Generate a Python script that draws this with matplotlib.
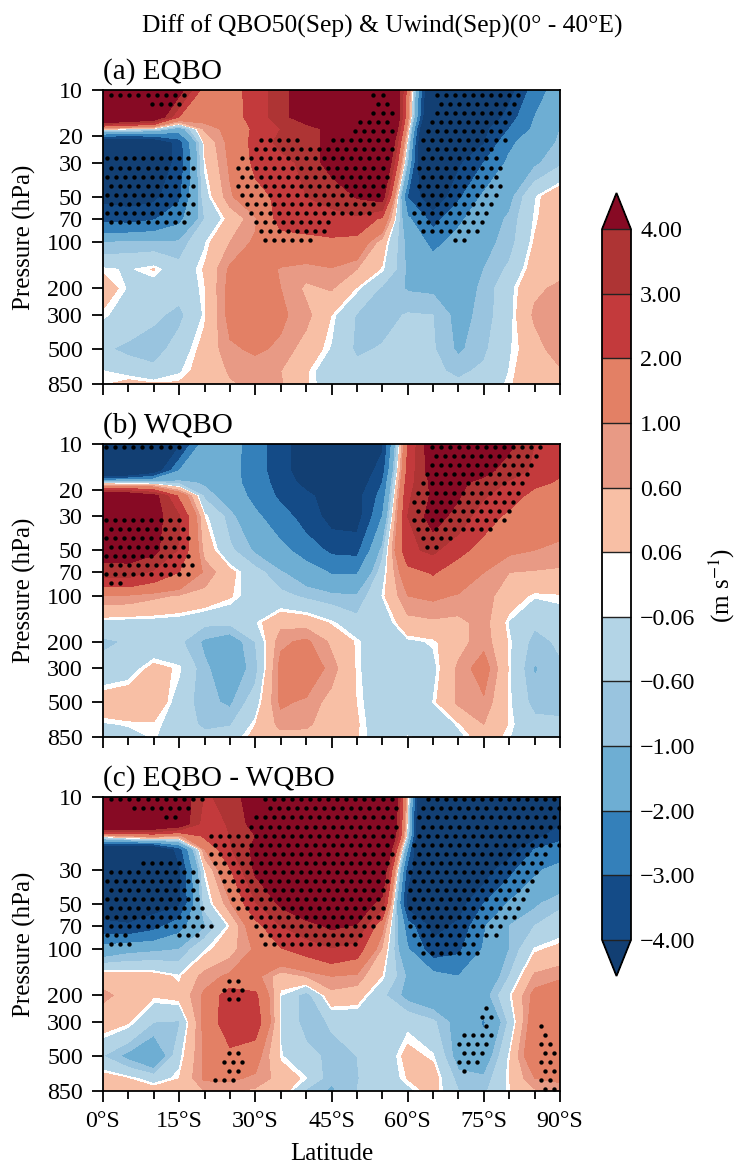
import numpy as np
import matplotlib
matplotlib.use("Agg")
import matplotlib.pyplot as plt
from matplotlib.cm import ScalarMappable
from matplotlib.colors import BoundaryNorm, ListedColormap
from matplotlib.ticker import NullLocator

plt.rcParams["font.family"] = ["Liberation Serif", "DejaVu Serif"]
plt.rcParams["mathtext.fontset"] = "stix"

lats = np.arange(0, 95, 5)
plevs = [10, 15, 18, 22, 30, 50, 70, 100, 150, 200, 300, 500, 700, 850]

# -----------------------------
# zonal wind differences, one row per pressure level
# -----------------------------
eqbo = [
    [5, 5, 5, 4.5, 1.5, 1.5, 2.5, 3.5, 5, 6, 6, 9.8, 1.5, -6.8, -6, -6, -4.5, -2.5, -1.5],
    [7, 6.5, 5.5, 2, 1.3, 1.4, 2.5, 3.5, 5, 5.5, 5.5, 10, 1.2, -7.5, -6, -5.5, -3.5, -2, -1.2],
    [.3, -.05, -.3, -1.5, .7, 1.2, 2.2, 3, 3.3, 4.5, 5, 9.25, .5, -9.3, -4.5, -4.3, -3, -1.8, -1],
    [-6, -6, -5.5, -3.5, .15, 1.2, 2.3, 3.3, 3.5, 4.4, 5, 7.9, -.2, -9.7, -4.5, -4.1, -2.2, -1.5, -.9],
    [-4.5, -4.8, -4.8, -3.7, 0, 1.1, 2.2, 2.6, 3.3, 4.5, 5, 6.6, -1, -9, -4.2, -3, -1.8, -1.1, -.7],
    [-4.3, -4.5, -4.3, -3.2, -.3, .9, 1.7, 2.2, 3, 3.1, 4.1, 4.6, -3.07, -5.1, -3.2, -1.8, -1.2, -.1, .5],
    [-3.3, -3.4, -3.1, -2.3, -.6, .2, .9, 2.4, 2.6, 2.9, 2.8, 1.8, -1.8, -3.4, -2.2, -1.4, -.9, -.02, .5],
    [-1, -.9, -.9, -.9, -.1, .6, 1.1, 1.5, 1.6, 1.7, 1.6, .3, -1.2, -2.3, -1.6, -1.2, -.8, .1, .45],
    [0, -.1, .08, -.4, .1, 1.1, 1.3, .95, .8, .95, .6, 0, -1.1, -1.4, -1.3, -1, -.5, .3, .45],
    [.3, -.1, -.3, -.4, .03, 1.2, 1.3, 1, .5, .65, .02, -.7, -1.05, -1.1, -1.3, -.9, -.2, .5, .7],
    [-.02, -.2, -.5, -.75, 0, 1.2, 1.3, 1.1, .75, .05, -.65, -.8, -.55, -.6, -1.2, -.85, -.2, .7, .85],
    [-.5, -.75, -.9, -.3, .2, .9, 1.1, .9, .35, -.1, -.7, -.55, -.45, -.55, -1.1, -.7, -.1, .3, 1],
    [-.05, -.2, -.4, -.1, .25, .65, .7, .6, .1, -.35, -.4, -.3, -.25, -.5, -.7, -.5, -.05, .4, .5],
    [.02, .2, .1, .1, .3, .55, .7, .65, .1, -.3, -.3, -.3, -.2, -.15, -.5, -.4, .02, .3, .4],
]
wqbo = [
    [-5, -5, -5, -4.2, -1.5, -1.5, -2.6, -3.5, -4.8, -5.5, -5.5, -4.2, 2, 5, 5, 5, 4.3, 3, 2.5],
    [-7, -6.5, -5, -2, -1.6, -1.6, -2.6, -3.5, -4.8, -5.2, -5, -3.5, 2.3, 4.7, 4.6, 4.5, 3.3, 2.9, 2.1],
    [-.4, -.5, -.5, -.8, -1.1, -1.5, -2.6, -3.3, -4.4, -5, -4.8, -3, 2.55, 4.3, 4.3, 3.5, 2.9, 2.2, 1.9],
    [5.5, 5.5, 4.5, 1.8, -.7, -1.4, -2.3, -3.2, -3.7, -4.6, -4.4, -2.6, 2.8, 4.2, 4.1, 3.1, 2.4, 1.7, 1.5],
    [4.6, 4.8, 4.5, 3.1, .05, -.8, -1.8, -2.6, -3.4, -4.4, -4.5, -2, 3, 4.5, 3.6, 2.4, 1.8, 1.4, 1.2],
    [4.5, 4.6, 4.3, 2.9, .4, -.5, -1.1, -1.7, -2.5, -3.2, -3.3, -.8, 2.8, 3.2, 2.3, 1.6, 1.1, 1, .9],
    [3.5, 3.5, 2.8, 2, .9, .2, -.4, -.95, -1.4, -2.1, -2.1, -.3, 1.6, 2.1, 1.4, 1, .6, .55, .5],
    [.9, .9, .7, .55, .4, .1, -.3, -.45, -.7, -.85, -.95, -.05, 1, 1.1, .95, .8, .3, -.03, .02],
    [-.2, -.25, -.25, -.3, -.5, -.5, -.1, .45, .4, 0, -.4, -.4, .4, .5, .45, .8, -.1, -.5, -.3],
    [-.7, -.55, -.45, -.5, -1.1, -1.4, -.6, .9, 1.1, .5, 0, -.4, -.15, -.02, .4, .85, 0, -.8, -.5],
    [-.4, -.3, .2, 0, -.9, -1.4, -.8, 1.2, 1.5, .8, 0, -.4, -.45, -.2, .7, 1.3, 0, -1.05, -.7],
    [.35, .5, .45, -.3, -.85, -1.1, -.3, 1.1, .9, .4, .05, -.4, -.45, -.05, .7, .9, 0, -.8, -.85],
    [-.1, -.03, 0, -.2, -.75, -.65, .05, .75, .7, .3, .1, -.35, -.45, -.5, 0, .6, .02, -.4, -.45],
    [-.3, -.2, -.03, -.3, -.4, -.3, .2, .4, .4, .3, .08, -.3, -.02, -.3, -.2, .3, -.05, -.3, -.3],
]
diff = [
    [5, 5, 5, 5, 2.9, 3.2, 5, 6, 6, 6, 6, 9.7, .2, -12, -5.5, -5.5, -5.5, -5.5, -4.5],
    [7, 6.5, 6, 5, 2.5, 3.1, 4.5, 6, 6, 6, 6, 9.4, -.2, -12, -6, -6, -6, -5.5, -4.2],
    [.3, 1, 1.2, .8, 2.2, 3, 4, 5.5, 6, 6, 6, 9, -.5, -12, -5.5, -5, -4.8, -4.5, -3.2],
    [-6, -6, -6, -3.5, 1, 2.9, 4.3, 5.5, 6, 6, 6, 7.5, -2.1, -10, -5, -5, -4.6, -3, -2.7],
    [-4.6, -5, -5, -4.2, 0, 1.9, 4.2, 5.5, 6, 6, 6, 5.45, -3.6, -6, -5, -4.6, -3.3, -2.2, -1.6],
    [-4.5, -4.7, -4.5, -4.2, -.4, .9, 2.9, 4.2, 5, 5.5, 5, 3.5, -4.5, -5, -4.5, -3, -1.9, -1.1, -.7],
    [-3.8, -3.9, -3.4, -2.4, -1.1, .05, 1.6, 3, 3.6, 4.2, 3.9, 1.2, -2.5, -4.4, -3.8, -2.1, -1, -.6, -.3],
    [-1.5, -1.2, -1.1, -1, -.1, .4, 1.1, 1.9, 2.4, 2.9, 2.5, .5, -1.9, -3.6, -3.2, -1.9, -1, -.02, .2],
    [.4, .3, .25, -.02, .8, 1.1, 1.2, .3, .6, 1, .85, .03, -1.1, -1.6, -2, -1.7, -.6, .7, .9],
    [.7, .45, .1, .2, 1.1, 2.6, 2.2, -.05, -.85, .4, .3, -.5, -1.2, -1.5, -1.4, -1.3, -.1, 1.2, 1.5],
    [.3, .1, -.6, -.65, 1.2, 2.7, 2.6, -.1, -.8, -.55, -.5, -.35, -.15, -.5, -1.3, -2.1, -.5, 1.5, 1.6],
    [-.6, -1.2, -1.8, -.2, 1.1, 1.7, 1.3, -.03, -.4, -.75, -.6, -.4, .2, -.02, -1.3, -1.5, 0, 1.7, 1.6],
    [.3, .05, -.3, .05, 1.1, 1.1, .9, .4, -.05, -.9, -.62, -.4, .08, .3, -.8, -.9, .05, 1, 1.1],
    [.4, .4, .3, .3, .6, .65, .5, .4, -.7, -1.1, -.6, -.4, -.2, .25, -.6, -.7, .03, .5, .8],
]

# latitude spans of the stippling, per row of the dot lattice counted from the top
sig_eqbo = [
    [(1.6, 15.8), (53, 55.5), (65.4, 81.5)], [(9.6, 15), (54, 56), (66.2, 80.6)],
    [(53, 56.7), (65.4, 79.6)], [(50.2, 56.7), (64.5, 78.9)], [(49.5, 56.7), (63.6, 78)],
    [(30.9, 39.4), (45.3, 56.7), (62.8, 78.9)], [(29.9, 56.7), (63.6, 77)],
    [(0.5, 16.8), (27.3, 56.1), (62.8, 78)], [(1.6, 17.5), (26.3, 55.1), (62, 78)],
    [(0.5, 16.8), (27.3, 55.8), (62.8, 77)], [(1.6, 17.5), (26.9, 55.1), (62, 77.7)],
    [(0.5, 16.8), (27.3, 54.1), (62.8, 77)], [(1.6, 17.5), (28.3, 54.1), (62, 76)],
    [(0.5, 16.8), (29.1, 52.4), (61.3, 75.4)], [(1.6, 15.8), (30, 44.3), (62, 74.4)],
    [(30.9, 43.3), (62.8, 73.4)], [(31.9, 40.7), (69, 71)],
]
sig_wqbo = [
    [(0.6, 14.9), (64.7, 86)], [(65.6, 85)], [(64.7, 84.2)], [(63.7, 83.2)], [(62.8, 82.4)],
    [(62, 81.5)], [(61.3, 80.6)], [(62, 79.6)], [(0.6, 14.9), (61, 78.7)],
    [(1.6, 15.8), (62, 76)], [(0.6, 16.2), (62.8, 68.2)], [(1.6, 15.8), (63.6, 65.6)],
    [(0.6, 16.8)], [(1.6, 17.5)], [(0.6, 16.8)], [(1.6, 3.4)],
]
sig_diff = [
    [(1.4, 19.4), (31.5, 56.7), (63.6, 88.8)], [(6, 16.8), (32.5, 57.6), (62.8, 89.5)],
    [(12.2, 14.2), (30, 56.7), (62, 88.8)], [(29, 57.6), (62.8, 89.5)],
    [(21, 56.7), (62, 87)], [(22, 55.9), (61, 89.5)], [(21, 56.7), (62, 86.8)],
    [(8, 14.9), (22, 55.9), (61, 87)], [(1.6, 17.5), (23, 55.8), (60.1, 85.2)],
    [(0.8, 18.5), (23.7, 55.9), (61, 84.2)], [(1.6, 17.5), (24.7, 55.1), (60.1, 83.2)],
    [(0.8, 18.5), (25.7, 54.2), (61, 82.4)], [(1.6, 19.4), (26.6, 54.8), (60.1, 81.6)],
    [(0.8, 18.5), (29.1, 54.2), (61, 80.6)], [(1.6, 21), (29.9, 53.1), (60.1, 78)],
    [(0.8, 5.4), (14.8, 18.5), (30, 51.2), (61, 77)], [(1.6, 5.4), (31.9, 49.9), (62, 73.4)],
    [(63, 73.4)], [], [],
    [(24.5, 26.5)], [(24, 27.3)], [(24.5, 26.5)], [(75.2, 75.2)], [(74.4, 76)],
    [(75.2, 75.2), (85.8, 85.8)], [(70.8, 76), (86.8, 86.8)], [(70, 75.4), (85.9, 87.8)],
    [(24.3, 26.5), (70.8, 74.4), (86.8, 88.6)], [(23.7, 27.3), (70, 73.4), (85.9, 87.8)],
    [(24.5, 26.5), (70.8, 70.8), (86.8, 88.6)], [(22, 25.7), (85.9, 87.8)], [(86.8, 88.6)],
]

levels = [-4, -3, -2, -1, -0.6, -0.06, 0.06, 0.6, 1, 2, 3, 4]
colors = ["#123f73", "#144b87", "#3480ba", "#6eaed3", "#99c4df", "#b3d4e6", "#ffffff",
          "#f8bfa5", "#e89a85", "#e38065", "#c33a3c", "#ae3434", "#870a24"]

ticks_full = [10, 20, 30, 50, 70, 100, 200, 300, 500, 850]
ticks_c = [10, 30, 50, 70, 100, 200, 300, 500, 850]

# title, values, stippling, y ticks, top and bottom pixel, lattice phase, first dot row
panels = [
    ("(a) EQBO", eqbo, sig_eqbo, ticks_full, 90, 384, -0.13, 0.017),
    ("(b) WQBO", wqbo, sig_wqbo, ticks_full, 444, 737, 0.65, 0.0114),
    ("(c) EQBO - WQBO", diff, sig_diff, ticks_c, 797, 1091, -0.13, 0.008),
]

W, H = 735, 1163
fs_tick = 17.3
fs_label = 18


def add_stipple(ax, spans, phase, first_row):
    # staggered dot lattice, kept only inside the significant spans
    dx = 1.78
    dlog = 0.0595
    xs, ys = [], []
    for i, row in enumerate(spans):
        logp = 1 + first_row * 1.929 + i * dlog
        grid = phase + (i % 2) * dx / 2 + dx * np.arange(0, 52)
        for a, b in row:
            keep = grid[(grid >= a - 0.5) & (grid <= b + 0.5)]
            xs.extend(keep)
            ys.extend([10 ** logp] * len(keep))
    ax.scatter(xs, ys, s=10, c="k", linewidths=0, zorder=3)


fig = plt.figure(figsize=(W / 100, H / 100), dpi=100)

for name, vals, sig, yticks, top, bottom, phase, first_row in panels:
    ax = fig.add_axes([103 / W, 1 - bottom / H, 457 / W, (bottom - top) / H])
    ax.contourf(lats, plevs, np.array(vals), levels=levels, colors=colors, extend="both")
    add_stipple(ax, sig, phase, first_row)
    ax.set_yscale("log")
    ax.set_ylim(850, 10)
    ax.set_xlim(0, 90)
    ax.set_yticks(yticks)
    ax.set_yticklabels([str(t) for t in yticks])
    ax.yaxis.set_minor_locator(NullLocator())
    ax.set_xticks(np.arange(0, 91, 15))
    ax.set_xticks(np.arange(0, 91, 5), minor=True)
    ax.set_xticklabels([f"{t}°S" for t in range(0, 91, 15)] if top > 700 else [])
    ax.tick_params(axis="both", which="major", length=8, width=1.3, labelsize=fs_tick, pad=6.5)
    ax.tick_params(axis="x", which="minor", length=5.5, width=1.3)
    for sp in ax.spines.values():
        sp.set_linewidth(1.3)
    ax.set_ylabel("Pressure (hPa)", fontsize=fs_label)
    ax.yaxis.set_label_coords(-0.147, 0.5)
    ax.text(0, 1.0 + 11 / (bottom - top), name, transform=ax.transAxes, fontsize=21, ha="left",
            va="baseline")
    if top > 700:
        ax.set_xlabel("Latitude", fontsize=fs_label, labelpad=8)

fig.text(382 / W, 1 - 33 / H, "Diff of QBO50(Sep) & Uwind(Sep)(0° - 40°E)", fontsize=18.4,
         ha="center", va="baseline")

# colour bar, the axes box includes both triangles
cax = fig.add_axes([602 / W, 1 - 976 / H, 29 / W, 783 / H])
cmap = ListedColormap(colors[1:-1])
cmap.set_under(colors[0])
cmap.set_over(colors[-1])
norm = BoundaryNorm(levels, cmap.N)
cb = fig.colorbar(ScalarMappable(norm=norm, cmap=cmap), cax=cax, extend="both", extendfrac=0.051,
                  spacing="uniform", ticks=levels, drawedges=True)
cb.ax.set_yticklabels([f"{v:.2f}".replace("-", "\u2212") for v in levels])
cb.ax.tick_params(length=0, labelsize=fs_tick, pad=6.5)
cb.outline.set_linewidth(1.3)
cb.dividers.set_linewidth(1.0)
cb.dividers.set_color("#222222")
fig.text(722 / W, 1 - 585 / H, r"(m s$^{-1}$)", fontsize=fs_label, rotation=90, ha="center",
         va="center")

fig.savefig("out.png", dpi=100)
